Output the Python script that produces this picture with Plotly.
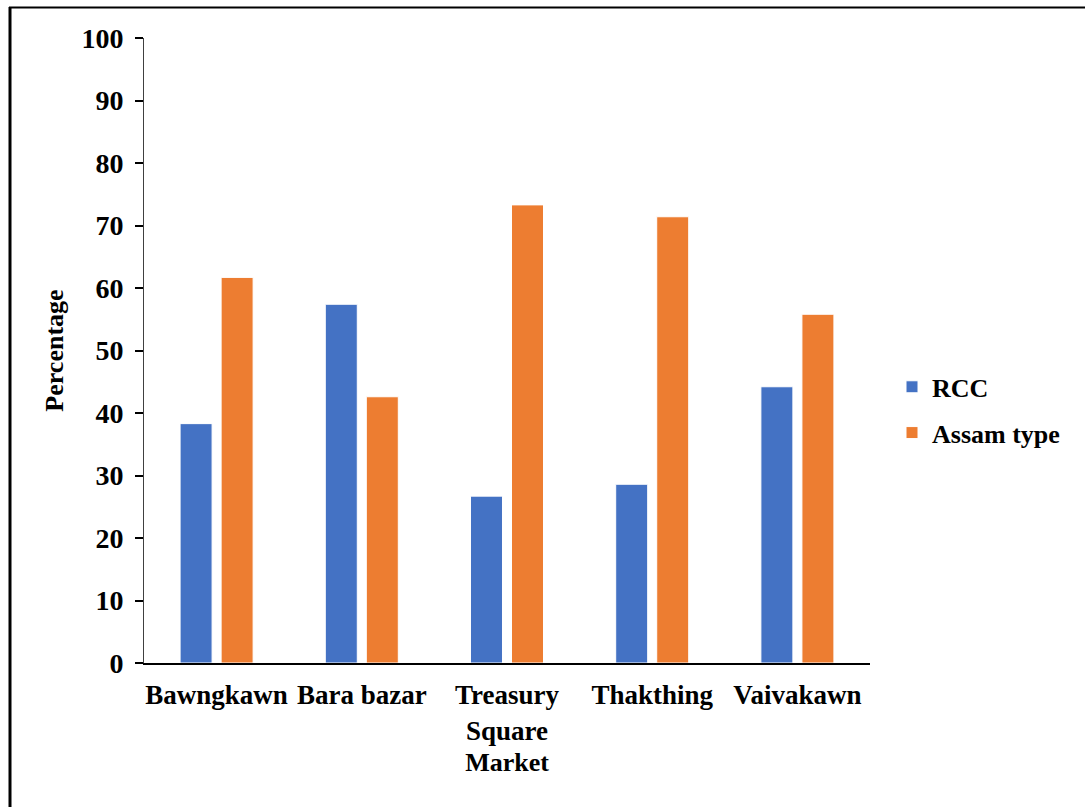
import plotly.graph_objects as go

markets = ["Bawngkawn", "Bara bazar", "Treasury<br>Square", "Thakthing", "Vaivakawn"]
rcc = [38.3, 57.4, 26.7, 28.6, 44.2]
assam_type = [61.7, 42.6, 73.3, 71.4, 55.8]
y_ticks = [0, 10, 20, 30, 40, 50, 60, 70, 80, 90, 100]

FONT = "Liberation Serif"
W, H = 1085, 807
L, R, T, B = 144, 215, 38, 144

fig = go.Figure()
fig.add_trace(go.Bar(
    x=markets, y=rcc, name="<b>RCC</b>", legendgroup="a",
    marker=dict(color="#4472C4", line=dict(color="#FFFFFF", width=1)),
))
fig.add_trace(go.Bar(
    x=markets, y=assam_type, name="<b>Assam type</b>", legendgroup="b",
    marker=dict(color="#ED7D31", line=dict(color="#FFFFFF", width=1)),
))

fig.update_layout(
    width=W, height=H,
    margin=dict(l=L, r=R, t=T, b=B, pad=0),
    paper_bgcolor="white", plot_bgcolor="white",
    barmode="group", bargap=0.435, bargroupgap=0.22,
    font=dict(family=FONT, size=26, color="black"),
    showlegend=True,
    legend=dict(
        x=(892 - L) / (W - L - R), xanchor="left",
        y=0.405, yanchor="middle",
        font=dict(family=FONT, size=26, color="black"),
        tracegroupgap=9, bgcolor="rgba(0,0,0,0)",
    ),
    xaxis=dict(
        showline=True, linecolor="black", linewidth=2,
        ticks="", showgrid=False, zeroline=False,
        tickfont=dict(family=FONT, size=27, color="black"),
        tickvals=markets, ticktext=["<b>" + m.replace("<br>", "</b><br><b>") + "</b>" for m in markets],
        ticklabelstandoff=7,
        title=dict(text="<b>Market</b>", font=dict(family=FONT, size=26, color="black"), standoff=8),
    ),
    yaxis=dict(
        range=[0, 100], tickvals=y_ticks,
        ticktext=["<b>%d</b>" % v for v in y_ticks],
        showline=True, linecolor="#404040", linewidth=1,
        ticks="outside", ticklen=8, tickwidth=1.5, tickcolor="black",
        showgrid=False, zeroline=False,
        tickfont=dict(family=FONT, size=28, color="black"),
        ticklabelstandoff=6,
        title=dict(text="<b>Percentage</b>", font=dict(family=FONT, size=26, color="black"), standoff=10),
    ),
    shapes=[
        dict(type="line", xref="paper", yref="paper", layer="above",
             x0=-(L - 10) / (W - L - R), x1=-(L - 10) / (W - L - R),
             y0=-(B) / (H - T - B), y1=(H - T - B + T - 7) / (H - T - B),
             line=dict(color="black", width=3)),
        dict(type="line", xref="paper", yref="paper", layer="above",
             x0=-(L - 9) / (W - L - R), x1=(W - L) / (W - L - R),
             y0=(H - T - B + T - 7.5) / (H - T - B), y1=(H - T - B + T - 7.5) / (H - T - B),
             line=dict(color="black", width=2)),
    ],
)

fig.write_html("out.html")
